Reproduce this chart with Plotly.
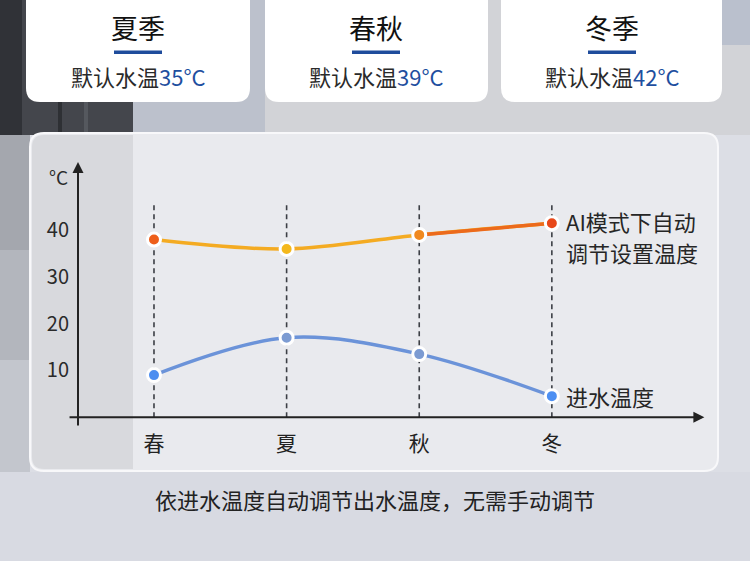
import plotly.graph_objects as go

# ---------------- data ----------------
seasons = ["春", "夏", "秋", "冬"]
ai_temp = [38, 36, 39, 41.5]          # AI模式下自动调节设置温度
inlet_temp = [9, 17, 13.5, 4.5]       # 进水温度
y_ticks = [10, 20, 30, 40]
guide_top = 46
card_titles = ["夏季", "春秋", "冬季"]
card_temps = [35, 39, 42]

# ---------------- geometry helpers ----------------
W, H = 750, 561
L, R, T, B = 78, 39, 162, 134
PW, PH = W - L - R, H - T - B
FONT = "Noto Sans CJK SC"


def px(x):
    return (x - L) / PW


def py(y):
    return (H - B - y) / PH


def rrect(x0, y0, x1, y1, r, rtl=None, rtr=None, rbr=None, rbl=None):
    rtl = r if rtl is None else rtl
    rtr = r if rtr is None else rtr
    rbr = r if rbr is None else rbr
    rbl = r if rbl is None else rbl
    P = lambda x, y: f"{px(x):.5f},{py(y):.5f}"
    return (f"M{P(x0 + rtl, y0)} L{P(x1 - rtr, y0)} Q{P(x1, y0)} {P(x1, y0 + rtr)} "
            f"L{P(x1, y1 - rbr)} Q{P(x1, y1)} {P(x1 - rbr, y1)} "
            f"L{P(x0 + rbl, y1)} Q{P(x0, y1)} {P(x0, y1 - rbl)} "
            f"L{P(x0, y0 + rtl)} Q{P(x0, y0)} {P(x0 + rtl, y0)} Z")


def rect(x0, y0, x1, y1, color):
    return dict(type="rect", xref="paper", yref="paper", x0=px(x0), x1=px(x1),
                y0=py(y1), y1=py(y0), fillcolor=color, line=dict(width=0), layer="below")


def path(p, fill, line_color=None, lw=0):
    return dict(type="path", xref="paper", yref="paper", path=p, fillcolor=fill,
                line=dict(color=line_color or fill, width=lw), layer="below")


x_idx = list(range(len(seasons)))

fig = go.Figure()

# dotted guide lines at each season
for i in x_idx:
    fig.add_trace(go.Scatter(x=[i, i], y=[0, guide_top], mode="lines",
                             line=dict(color="#3c3f45", width=1.6, dash="5px,4px"),
                             hoverinfo="skip", showlegend=False))

# AI auto temperature curve (yellow -> orange-red)
fig.add_trace(go.Scatter(
    x=x_idx, y=ai_temp, mode="lines",
    line=dict(color="#f4ab22", width=3.5, shape="spline", smoothing=1),
    cliponaxis=False, hoverinfo="skip", showlegend=False))
fig.add_trace(go.Scatter(
    x=x_idx[2:], y=ai_temp[2:], mode="lines",
    line=dict(color="#ec6a1c", width=3.5),
    cliponaxis=False, hoverinfo="skip", showlegend=False))
fig.add_trace(go.Scatter(
    x=x_idx, y=ai_temp, mode="markers",
    marker=dict(size=13, color=["#ee5e1a", "#f4b81c", "#f0891f", "#e8481a"],
                line=dict(color="white", width=3)),
    cliponaxis=False, hoverinfo="skip", showlegend=False))

# inlet water temperature curve
fig.add_trace(go.Scatter(
    x=x_idx, y=inlet_temp, mode="lines+markers",
    line=dict(color="#6b93d9", width=3.5, shape="spline", smoothing=1),
    marker=dict(size=13, color=["#4d8ef0", "#7c9bd2", "#7c9bd2", "#4d8ff2"],
                line=dict(color="white", width=3)),
    cliponaxis=False, hoverinfo="skip", showlegend=False))

shapes = []
# background
shapes.append(rect(0, 0, 133, 135, "#44464c"))
shapes.append(rect(0, 0, 22, 135, "#303237"))
shapes.append(rect(58, 100, 62, 135, "#2e3034"))
shapes.append(rect(84, 100, 88, 135, "#55585e"))
shapes.append(rect(133, 0, 265, 135, "#bcc1cc"))
shapes.append(rect(265, 0, 750, 135, "#d2d3d7"))
shapes.append(rect(722, 0, 750, 45, "#bac0cd"))
shapes.append(rect(0, 135, 30, 250, "#a4a7ae"))
shapes.append(rect(0, 250, 30, 360, "#b3b6bd"))
shapes.append(rect(0, 360, 30, 472, "#c3c6cd"))
shapes.append(rect(0, 472, 750, 561, "#d8dae2"))
# cards
for (x0, x1) in [(26, 250), (265, 488), (501, 722)]:
    shapes.append(path(rrect(x0, -20, x1, 102, 14), "#ffffff"))
# chart panel
shapes.append(path(rrect(30, 133, 718, 471, 14), "#e9eaee", "#f8f8fa", 2))
shapes.append(path(rrect(32, 135, 133, 469, 12, rtr=0, rbr=0), "#d8d9dd"))

# blue underline bars on cards
for cx in [138, 376, 612]:
    shapes.append(dict(type="rect", xref="paper", yref="paper", x0=px(cx - 24), x1=px(cx + 24),
                       y0=py(54), y1=py(50.5), fillcolor="#1f4c9c", line=dict(width=0)))

annotations = []
for cx, title, temp in zip([138, 376, 612], card_titles, card_temps):
    annotations.append(dict(xref="paper", yref="paper", x=px(cx), y=py(28), text=title,
                            showarrow=False, font=dict(family=FONT, size=27, color="#111111"),
                            xanchor="center", yanchor="middle"))
    annotations.append(dict(xref="paper", yref="paper", x=px(cx), y=py(76),
                            text=f"默认水温<span style='color:#1f4f9f'>{temp}°C</span>",
                            showarrow=False, font=dict(family=FONT, size=22, color="#2a2a2a"),
                            xanchor="center", yanchor="middle"))

# axes arrows
annotations.append(dict(x=4.15, y=0, ax=-0.648, ay=0, xref="x", yref="y", axref="x", ayref="y",
                        text="", showarrow=True, arrowhead=2, arrowsize=1.1, arrowwidth=2,
                        arrowcolor="#222222", standoff=0))
annotations.append(dict(x=-0.573, y=54.6, ax=-0.573, ay=-2.1, xref="x", yref="y", axref="x",
                        ayref="y", text="", showarrow=True, arrowhead=2, arrowsize=1.1,
                        arrowwidth=2, arrowcolor="#222222", standoff=0))
annotations.append(dict(x=-0.573, y=51.5, xref="x", yref="y", text="°C", showarrow=False,
                        xanchor="right", xshift=-8, font=dict(family=FONT, size=19, color="#2a2a2a")))

# series labels
lab_font = dict(family=FONT, size=22, color="#262626")
annotations.append(dict(x=3, y=ai_temp[-1], xref="x", yref="y", text="AI模式下自动",
                        showarrow=False, xanchor="left", yanchor="middle", xshift=12, yshift=2,
                        font=lab_font))
annotations.append(dict(x=3, y=ai_temp[-1], xref="x", yref="y", text="调节设置温度",
                        showarrow=False, xanchor="left", yanchor="middle", xshift=12, yshift=-29,
                        font=lab_font))
annotations.append(dict(x=3, y=inlet_temp[-1], xref="x", yref="y", text="进水温度",
                        showarrow=False, xanchor="left", yanchor="middle", xshift=12, yshift=0,
                        font=lab_font))

# caption
annotations.append(dict(xref="paper", yref="paper", x=px(375), y=py(499),
                        text="依进水温度自动调节出水温度，无需手动调节", showarrow=False,
                        xanchor="center", yanchor="middle",
                        font=dict(family=FONT, size=22, color="#222222")))

fig.update_layout(
    width=W, height=H, autosize=False,
    margin=dict(l=L, r=R, t=T, b=B, pad=0),
    paper_bgcolor="#dcdee5", plot_bgcolor="rgba(0,0,0,0)",
    shapes=shapes, annotations=annotations, showlegend=False,
    xaxis=dict(range=[-0.573, 4.2], tickvals=x_idx, ticktext=seasons, showgrid=False,
               zeroline=False, showline=False, ticks="", ticklabelstandoff=2,
               tickfont=dict(family=FONT, size=21, color="#222222"), fixedrange=True),
    yaxis=dict(range=[-2.1, 54.6], tickvals=y_ticks, showgrid=False, zeroline=False,
               showline=False, ticks="", ticklabelstandoff=8,
               tickfont=dict(family=FONT, size=20, color="#2a2a2a"), fixedrange=True),
    font=dict(family=FONT),
)

fig.write_html("out.html", config={"displayModeBar": False},
               post_script="document.body.style.margin='0';document.body.style.padding='0';"
                           "document.documentElement.style.margin='0';")
